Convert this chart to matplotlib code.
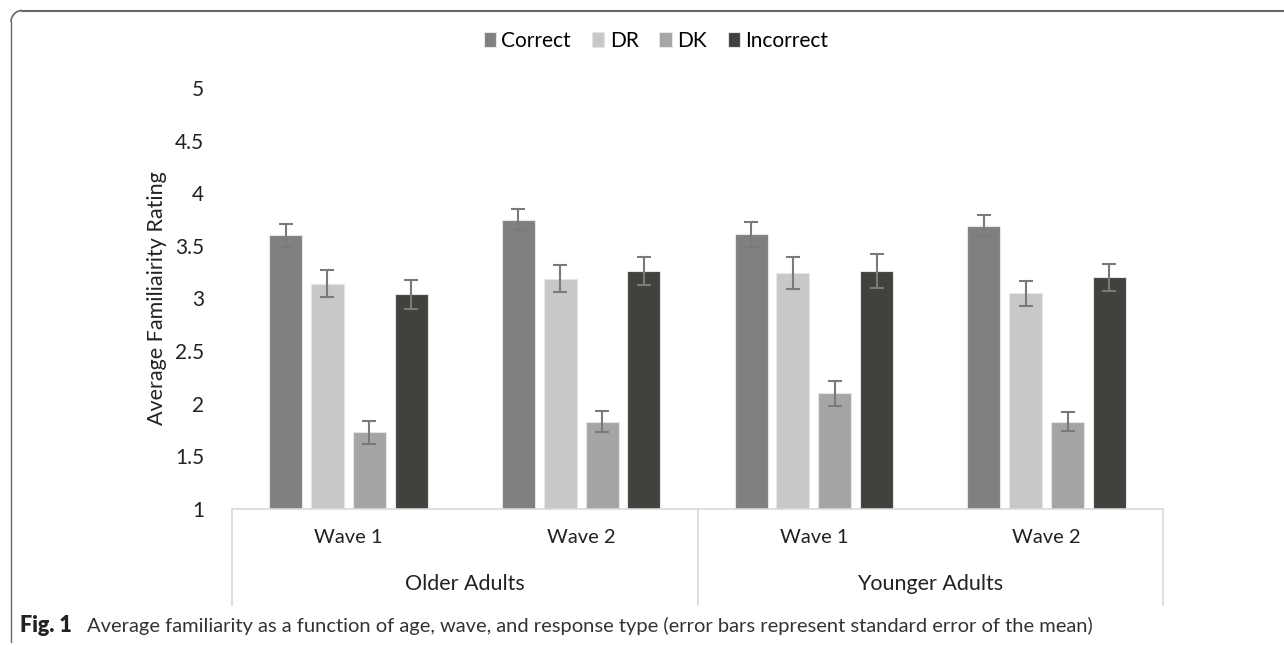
import matplotlib
matplotlib.use("Agg")
import matplotlib.pyplot as plt
import numpy as np
from matplotlib.lines import Line2D
from matplotlib.patches import Arc

plt.rcParams['font.family'] = ['Lato', 'DejaVu Sans']

waves = ["Wave 1", "Wave 2", "Wave 1", "Wave 2"]
ages = ["Older Adults", "Younger Adults"]
series = ["Correct", "DR", "DK", "Incorrect"]
colors = ["#808080", "#c8c8c8", "#a5a5a5", "#43413e"]

correct = [3.60, 3.75, 3.61, 3.69]
dr = [3.14, 3.19, 3.24, 3.05]
dk = [1.73, 1.83, 2.10, 1.83]
incorrect = [3.04, 3.26, 3.26, 3.20]

correct_se = [0.11, 0.10, 0.12, 0.10]
dr_se = [0.13, 0.13, 0.15, 0.12]
dk_se = [0.11, 0.10, 0.12, 0.09]
incorrect_se = [0.14, 0.13, 0.16, 0.13]

values = [correct, dr, dk, incorrect]
errors = [correct_se, dr_se, dk_se, incorrect_se]

fig = plt.figure(figsize=(12.84, 6.45), dpi=100)
ax = fig.add_axes([232/1284, 1-509/645, (1163-232)/1284, (509-88)/645])

x = np.arange(len(waves))
width = 0.142
step = 0.18
for i, (vals, errs, c, name) in enumerate(zip(values, errors, colors, series)):
    pos = x + (i - 1.5) * step
    ax.bar(pos, np.array(vals) - 1, bottom=1, width=width, color=c,
           edgecolor="#e6e6e6", linewidth=0.8, label=name, zorder=2)
    ax.errorbar(pos, vals, yerr=errs, fmt="none", ecolor="#7a7a7a",
                elinewidth=1.5, capsize=5, capthick=1.5, zorder=3)

ax.set_xlim(-0.5, 3.5)
ax.set_ylim(1, 5)
ax.set_yticks(np.arange(1, 5.01, 0.5))
ax.set_yticklabels(["1", "1.5", "2", "2.5", "3", "3.5", "4", "4.5", "5"])
ax.tick_params(axis="y", length=0, pad=20, labelsize=15, labelcolor="#222222")
ax.set_xticks([])
for s in ["left", "right", "top"]:
    ax.spines[s].set_visible(False)
ax.spines["bottom"].set_color("#d9d9d9")
ax.spines["bottom"].set_linewidth(1.2)
ax.set_ylabel("Average Familiairity Rating", fontsize=15.5, color="#222222", labelpad=6)

# multi-level category labels
trans = ax.get_xaxis_transform()
for xi, w in zip(x, waves):
    ax.text(xi, -0.067, w, transform=trans, ha="center", va="center",
            fontsize=14.5, color="#222222")
for gi, a in enumerate(ages):
    ax.text(gi * 2 + 0.5, -0.178, a, transform=trans, ha="center", va="center",
            fontsize=15.5, color="#222222")
for xv in [-0.5, 1.5, 3.5]:
    ax.add_line(Line2D([xv, xv], [0, -0.228], transform=trans, color="#d9d9d9",
                       linewidth=1.2, clip_on=False))

# legend
leg = fig.legend(*ax.get_legend_handles_labels(), loc="center",
                 bbox_to_anchor=(656/1284, 1-41/645),
                 ncol=4, frameon=False, fontsize=15, handlelength=0.6, handleheight=0.75,
                 handletextpad=0.25, columnspacing=1.0, borderpad=0)

# caption
fig.text(20/1284, 1-626/645, "Fig. 1", fontsize=15.5, fontweight="heavy", va="center",
         ha="left", color="#222222")
fig.text(87/1284, 1-626/645,
         "Average familiarity as a function of age, wave, and response type (error bars represent standard error of the mean)",
         fontsize=14.5, va="center", ha="left", color="#333333")

# frame
fig.add_artist(Line2D([22/1284, 1.0], [1-10.5/645, 1-10.5/645], transform=fig.transFigure,
                      color="#666666", linewidth=1.5))
fig.add_artist(Line2D([11/1284, 11/1284], [1-22/645, 1-642/645], transform=fig.transFigure,
                      color="#666666", linewidth=1.0))
fig.add_artist(Arc((22, 645-22), 22, 23, theta1=90, theta2=180, transform=None,
                   color="#666666", linewidth=1.2))

fig.savefig("out.png", dpi=100)
